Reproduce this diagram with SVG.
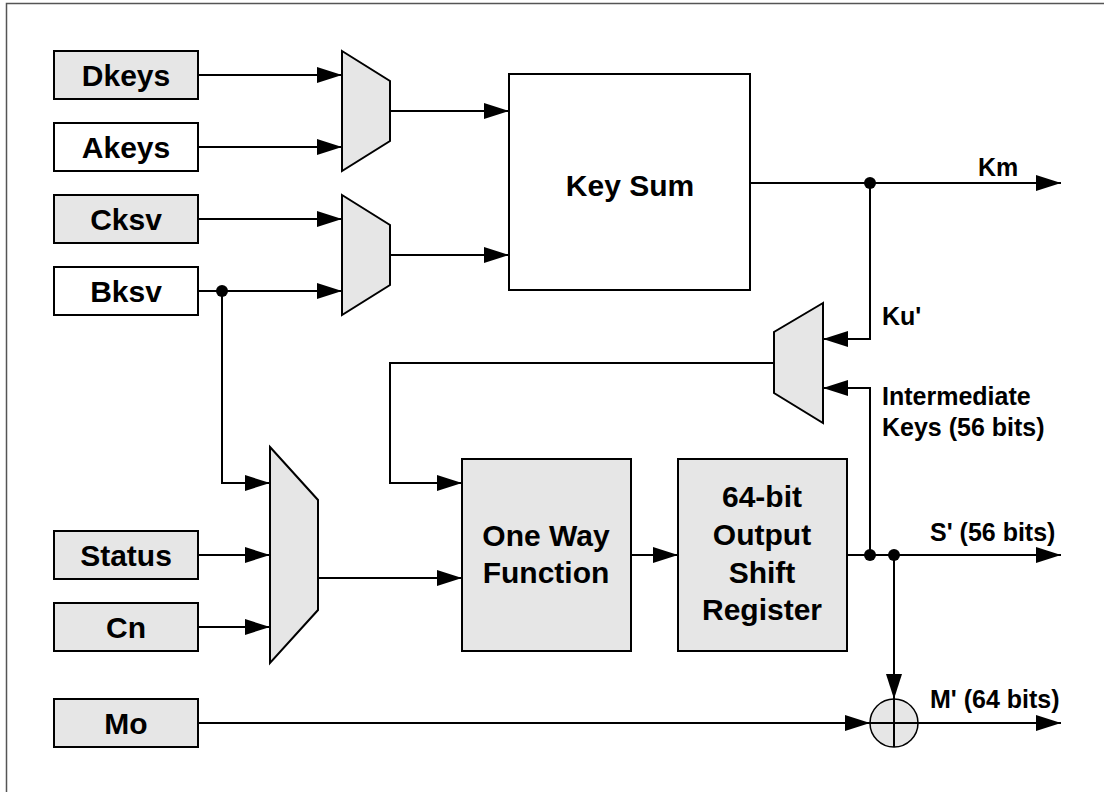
<svg xmlns="http://www.w3.org/2000/svg" width="1104" height="792" viewBox="0 0 1104 792">
<style>
.box{fill:#e6e6e6;stroke:#000;stroke-width:2}
.wbox{fill:#fff;stroke:#000;stroke-width:2}
.mux{fill:#e6e6e6;stroke:#000;stroke-width:2;stroke-linejoin:miter}
.t{font-family:"Liberation Sans",Arial,sans-serif;font-weight:bold;font-size:30px;text-anchor:middle;fill:#000}
.l{font-family:"Liberation Sans",Arial,sans-serif;font-weight:bold;font-size:25px;fill:#000}
.w{fill:none;stroke:#000;stroke-width:2}
.dot{fill:#000}
</style>
<defs>
<marker id="ah" markerWidth="25" markerHeight="16" refX="25" refY="8" orient="auto" markerUnits="userSpaceOnUse">
<path d="M0,0 L25,8 L0,16 Z" fill="#000"/>
</marker>
</defs>
<rect width="1104" height="792" fill="#fff"/>
<path d="M6.5,800 V3.5 H1110" fill="none" stroke="#555" stroke-width="1.5"/>

<g id="dkeys"><rect class="box" x="54" y="51" width="144" height="48"/><text class="t" x="126" y="86">Dkeys</text></g>
<g id="akeys"><rect class="wbox" x="54" y="123" width="144" height="48"/><text class="t" x="126" y="158">Akeys</text></g>
<g id="cksv"><rect class="box" x="54" y="195" width="144" height="48"/><text class="t" x="126" y="230">Cksv</text></g>
<g id="bksv"><rect class="wbox" x="54" y="267" width="144" height="48"/><text class="t" x="126" y="302">Bksv</text></g>
<g id="status"><rect class="box" x="54" y="531" width="144" height="48"/><text class="t" x="126" y="566">Status</text></g>
<g id="cn"><rect class="box" x="54" y="603" width="144" height="48"/><text class="t" x="126" y="638">Cn</text></g>
<g id="mo"><rect class="box" x="54" y="699" width="144" height="48"/><text class="t" x="126" y="734">Mo</text></g>

<g id="mux1"><path class="mux" d="M342,51 L390,81 L390,141 L342,171 Z"/></g>
<g id="mux2"><path class="mux" d="M342,195 L390,225 L390,285 L342,315 Z"/></g>
<g id="mux3"><path class="mux" d="M823,303 L774,332 L774,393 L823,423 Z"/></g>
<g id="mux4"><path class="mux" d="M270,447 L318,500 L318,610 L270,663 Z"/></g>

<g id="keysum"><rect class="wbox" x="509" y="74" width="241" height="216"/><text class="t" x="630" y="196">Key Sum</text></g>
<g id="owf"><rect class="box" x="462" y="459" width="169" height="192"/><text class="t" x="546" y="546">One Way</text><text class="t" x="546" y="583">Function</text></g>
<g id="osr"><rect class="box" x="678" y="459" width="169" height="192"/><text class="t" x="762" y="507">64-bit</text><text class="t" x="762" y="545">Output</text><text class="t" x="762" y="583">Shift</text><text class="t" x="762" y="620">Register</text></g>
<g id="xor"><circle cx="894" cy="723" r="24" fill="#e6e6e6" stroke="#000" stroke-width="1.5"/><path d="M894,699 V747 M870,723 H918" stroke="#000" stroke-width="2"/></g>

<g id="connectors">
<path class="w" d="M198,75 H342" marker-end="url(#ah)"/>
<path class="w" d="M198,147 H342" marker-end="url(#ah)"/>
<path class="w" d="M198,219 H342" marker-end="url(#ah)"/>
<path class="w" d="M198,291 H342" marker-end="url(#ah)"/>
<path class="w" d="M390,111 H509" marker-end="url(#ah)"/>
<path class="w" d="M390,255 H509" marker-end="url(#ah)"/>
<path class="w" d="M750,183 H1061" marker-end="url(#ah)"/>
<path class="w" d="M870,183 V339 H823" marker-end="url(#ah)"/>
<path class="w" d="M870,555 V388 H823" marker-end="url(#ah)"/>
<path class="w" d="M774,363 H390 V483 H462" marker-end="url(#ah)"/>
<path class="w" d="M222,291 V483 H270" marker-end="url(#ah)"/>
<path class="w" d="M198,555 H270" marker-end="url(#ah)"/>
<path class="w" d="M198,627 H270" marker-end="url(#ah)"/>
<path class="w" d="M318,578 H462" marker-end="url(#ah)"/>
<path class="w" d="M631,555 H678" marker-end="url(#ah)"/>
<path class="w" d="M847,555 H1061" marker-end="url(#ah)"/>
<path class="w" d="M894,555 V699" marker-end="url(#ah)"/>
<path class="w" d="M198,723 H870" marker-end="url(#ah)"/>
<path class="w" d="M918,723 H1061" marker-end="url(#ah)"/>
<circle class="dot" cx="222" cy="291" r="6"/>
<circle class="dot" cx="870" cy="183" r="6"/>
<circle class="dot" cx="870" cy="555" r="6"/>
<circle class="dot" cx="894" cy="555" r="6"/>
<text class="l" x="978" y="176">Km</text>
<text class="l" x="882" y="325">Ku'</text>
<text class="l" x="882" y="405">Intermediate</text>
<text class="l" x="882" y="436">Keys (56 bits)</text>
<text class="l" x="930" y="541">S' (56 bits)</text>
<text class="l" x="930" y="708">M' (64 bits)</text>
</g>
</svg>
